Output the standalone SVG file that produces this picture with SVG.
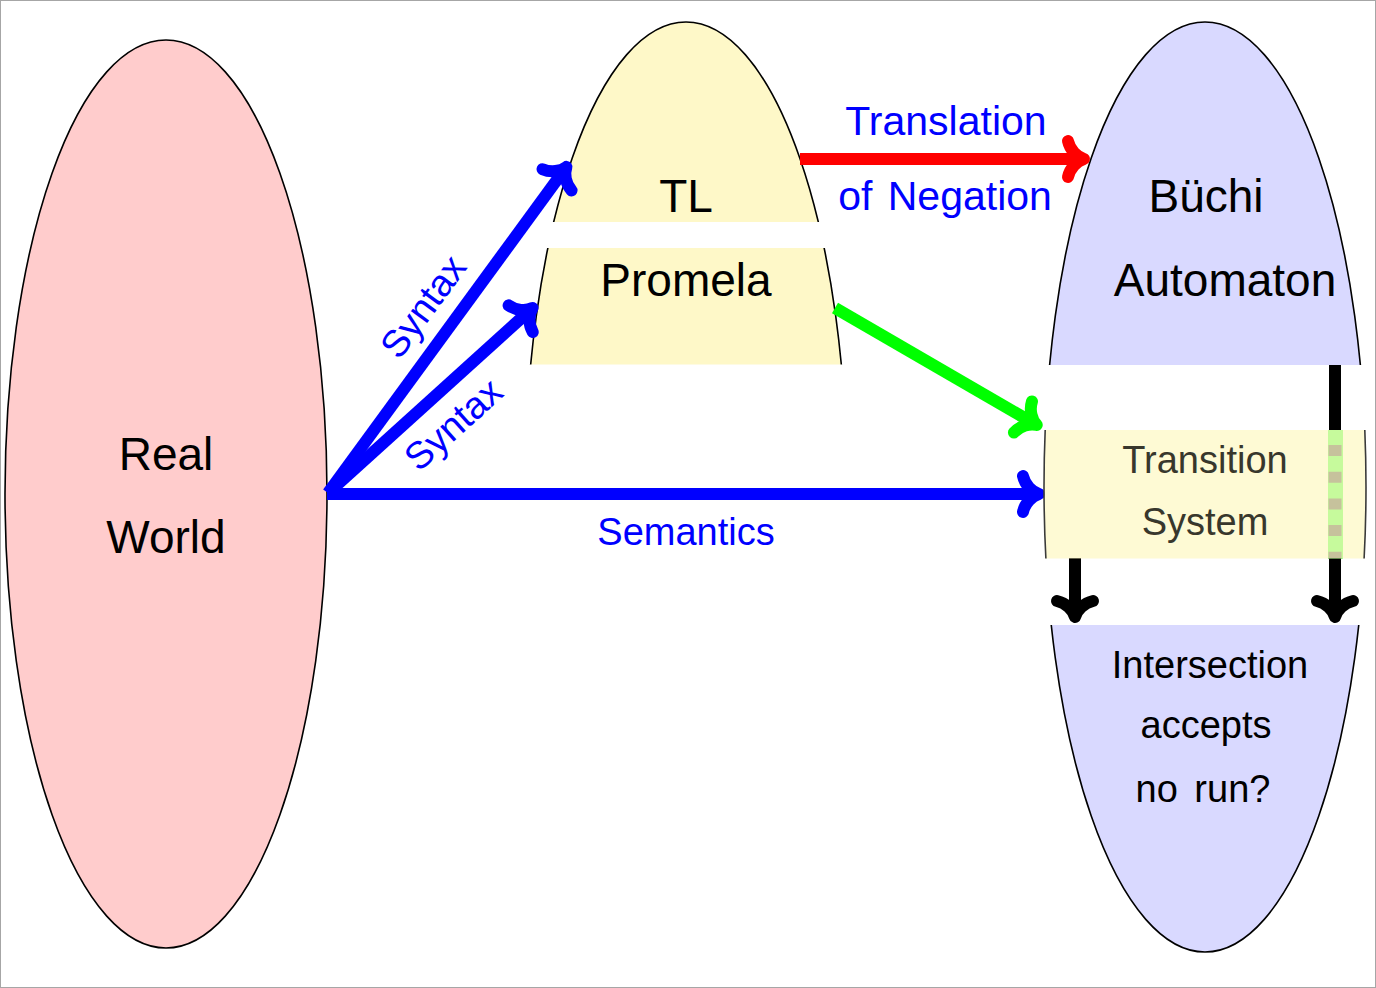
<svg xmlns="http://www.w3.org/2000/svg" width="1376" height="988" viewBox="0 0 1376 988">
<style>
.t{font-family:"Liberation Sans",Arial,sans-serif;text-anchor:middle;fill:#000}
.big{font-size:46px}
.mid{font-size:38px}
.lbl{font-family:"Liberation Sans",Arial,sans-serif;text-anchor:middle;fill:#0000ff}
.dim{fill:#38372c}
.edge{fill:none;stroke-width:12;stroke-linecap:butt}
.nd{stroke:#000;stroke-width:1.6}
</style>
<defs>
<clipPath id="cTL"><rect x="400" y="0" width="600" height="222"/></clipPath>
<clipPath id="cPR"><rect x="400" y="248" width="600" height="116.5"/></clipPath>
<clipPath id="cBU"><rect x="1000" y="0" width="376" height="365"/></clipPath>
<clipPath id="cTS"><rect x="1000" y="430" width="376" height="128.5"/></clipPath>
<clipPath id="cIN"><rect x="1000" y="625" width="376" height="363"/></clipPath>
<marker id="hBlue" markerUnits="userSpaceOnUse" orient="auto" refX="0" refY="0" markerWidth="60" markerHeight="60" viewBox="-30 -30 60 60" overflow="visible">
<path d="M-13,-18 C-11,-9 -4,-2 3,0 C-4,2 -11,9 -13,18" fill="none" stroke="#0000ff" stroke-width="12" stroke-linecap="round" stroke-linejoin="round"/>
</marker>
<marker id="hRed" markerUnits="userSpaceOnUse" orient="auto" refX="0" refY="0" markerWidth="60" markerHeight="60" viewBox="-30 -30 60 60" overflow="visible">
<path d="M-13,-18 C-11,-9 -4,-2 3,0 C-4,2 -11,9 -13,18" fill="none" stroke="#ff0000" stroke-width="12" stroke-linecap="round" stroke-linejoin="round"/>
</marker>
<marker id="hGreen" markerUnits="userSpaceOnUse" orient="auto" refX="0" refY="0" markerWidth="60" markerHeight="60" viewBox="-30 -30 60 60" overflow="visible">
<path d="M-13,-18 C-11,-9 -4,-2 3,0 C-4,2 -11,9 -13,18" fill="none" stroke="#00ff00" stroke-width="12" stroke-linecap="round" stroke-linejoin="round"/>
</marker>
<marker id="hBlack" markerUnits="userSpaceOnUse" orient="auto" refX="0" refY="0" markerWidth="60" markerHeight="60" viewBox="-30 -30 60 60" overflow="visible">
<path d="M-13,-18 C-11,-9 -4,-2 3,0 C-4,2 -11,9 -13,18" fill="none" stroke="#000000" stroke-width="12" stroke-linecap="round" stroke-linejoin="round"/>
</marker>
</defs>
<rect x="0.5" y="0.5" width="1375" height="987" fill="#ffffff" stroke="#a6a6a6" stroke-width="1"/>

<g id="realworld">
<ellipse class="nd" cx="166" cy="494" rx="161" ry="454" fill="#ffcccc"/>
<text class="t big" x="166" y="470">Real</text>
<text class="t big" x="166" y="553">World</text>
</g>

<g id="tl">
<ellipse class="nd" cx="686" cy="487" rx="161" ry="465" fill="#fef8c8" clip-path="url(#cTL)"/>
<text class="t big" x="686" y="212">TL</text>
</g>

<g id="promela">
<ellipse class="nd" cx="686" cy="487" rx="161" ry="465" fill="#fef8c8" clip-path="url(#cPR)"/>
<text class="t big" x="686" y="296">Promela</text>
</g>

<g id="buchi">
<ellipse class="nd" cx="1205" cy="487" rx="161" ry="465" fill="#d9d9ff" clip-path="url(#cBU)"/>
<text class="t big" x="1206" y="212">Büchi</text>
<text class="t big" x="1225" y="296">Automaton</text>
</g>

<g id="intersection">
<ellipse class="nd" cx="1205" cy="487" rx="161" ry="465" fill="#d9d9ff" clip-path="url(#cIN)"/>
<text class="t mid" x="1210" y="678">Intersection</text>
<text class="t mid" x="1206" y="738">accepts</text>
<text class="t mid" x="1203" y="802" word-spacing="6">no run?</text>
</g>

<g id="connectors">
<line class="edge" x1="327" y1="494" x2="1036" y2="494" stroke="#0000ff" marker-end="url(#hBlue)"/>
<line class="edge" x1="328" y1="493" x2="564.7" y2="169.3" stroke="#0000ff" marker-end="url(#hBlue)"/>
<line class="edge" x1="328" y1="493" x2="530.3" y2="310" stroke="#0000ff" marker-end="url(#hBlue)"/>
<line class="edge" x1="800" y1="159" x2="1081" y2="159" stroke="#ff0000" marker-end="url(#hRed)"/>
<line class="edge" x1="835" y1="308" x2="1034.2" y2="423.5" stroke="#00ff00" marker-end="url(#hGreen)"/>
<line class="edge" x1="1335" y1="365" x2="1335" y2="614" stroke="#000000" marker-end="url(#hBlack)"/>
<line class="edge" x1="1075" y1="558" x2="1075" y2="614" stroke="#000000" marker-end="url(#hBlack)"/>
<rect x="1328" y="430" width="15" height="128.5" fill="#00ff00"/>
<line x1="1335" y1="445" x2="1335" y2="558.5" stroke="#000000" stroke-width="13" stroke-dasharray="11 15.7"/>
<text class="lbl" font-size="38" transform="translate(433.6,314.2) rotate(-53.7)">Syntax</text>
<text class="lbl" font-size="38" transform="translate(462,434) rotate(-42)">Syntax</text>
<text class="lbl" font-size="38" x="686" y="545">Semantics</text>
<text class="lbl" font-size="41" x="946" y="135">Translation</text>
<text class="lbl" font-size="41" x="945" y="210" word-spacing="4">of Negation</text>
</g>

<g id="ts">
<ellipse cx="1205" cy="487" rx="161" ry="465" fill="#fef8c8" fill-opacity="0.78" stroke="#3a3a3a" stroke-width="1.6" clip-path="url(#cTS)"/>
<text class="t mid dim" x="1205" y="473">Transition</text>
<text class="t mid dim" x="1205" y="535">System</text>
</g>
</svg>
